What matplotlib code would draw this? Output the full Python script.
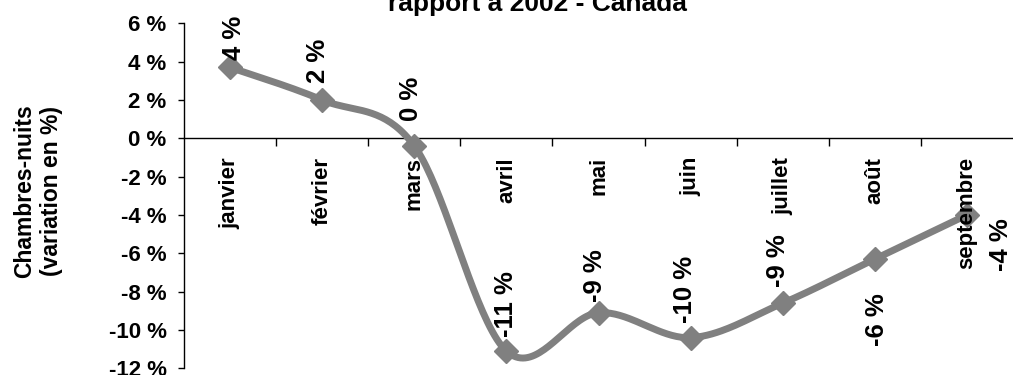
import numpy as np
import matplotlib
matplotlib.use("Agg")
import matplotlib.pyplot as plt
from matplotlib.ticker import FixedLocator, FuncFormatter

plt.rcParams["font.family"] = ["Liberation Sans", "DejaVu Sans"]
plt.rcParams["font.weight"] = "bold"
plt.rcParams["axes.unicode_minus"] = False

# Monthly change in room-nights versus 2002 (%)
months = ["janvier", "février", "mars", "avril", "mai", "juin",
          "juillet", "août", "septembre"]
values = [3.7, 2.0, -0.4, -11.1, -9.1, -10.4, -8.6, -6.3, -4.0]
value_labels = ["4 %", "2 %", "0 %", "-11 %", "-9 %", "-10 %", "-9 %", "-6 %", "-4 %"]

# label placement: (dx, dy) in pixels from the point, vertical alignment
label_offsets = [(4, 7, "bottom"), (-4, 17, "bottom"), (-3, 25, "bottom"),
                 (0, 14, "bottom"), (-3, 11, "bottom"), (-6, 15, "bottom"),
                 (-5, 16, "bottom"), (2, -34, "top"), (34, -30, "center")]

line_color = "#808080"


def smooth_curve(x, y, n=40):
    """Catmull-Rom style cubic Bezier through every point."""
    p = np.column_stack([x, y]).astype(float)
    ext = np.vstack([p[0], p, p[-1]])
    out = []
    t = np.linspace(0, 1, n)[:, None]
    for i in range(len(p) - 1):
        p0, p1, p2, p3 = ext[i], ext[i + 1], ext[i + 2], ext[i + 3]
        c1 = p1 + (p2 - p0) / 6.0
        c2 = p2 - (p3 - p1) / 6.0
        seg = ((1 - t) ** 3) * p1 + 3 * ((1 - t) ** 2) * t * c1 \
            + 3 * (1 - t) * t ** 2 * c2 + t ** 3 * p2
        out.append(seg if i == 0 else seg[1:])
    s = np.vstack(out)
    return s[:, 0], s[:, 1]


fig = plt.figure(figsize=(10.13, 3.75), dpi=100)
ax = fig.add_axes([184 / 1013, 6.7 / 375, 1 - 184 / 1013, (368.3 - 23.3) / 375])

xs = np.arange(len(months))
sx, sy = smooth_curve(xs, values)
ax.plot(sx, sy, color=line_color, lw=5, solid_capstyle="round", zorder=2)
ax.plot(xs, values, linestyle="none", marker="D", ms=12.5,
        color=line_color, zorder=2.1)

for x, v, lab, (dx, dy, va) in zip(xs, values, value_labels, label_offsets):
    ax.annotate(lab, (x, v), xytext=(dx, dy), textcoords="offset pixels",
                rotation=90, ha="center", va=va, fontsize=18.5,
                fontweight="bold", zorder=5)

ax.set_xlim(-0.5, len(months) - 0.5)
ax.set_ylim(-12, 6)

# spines: y axis on the left, category axis along zero
for side in ("top", "right"):
    ax.spines[side].set_visible(False)
ax.spines["bottom"].set_position(("data", 0))
ax.spines["left"].set_linewidth(1.0)
ax.spines["bottom"].set_linewidth(1.0)
ax.spines["bottom"].set_zorder(1)
ax.spines["left"].set_zorder(1)
ax.xaxis.set_zorder(4)

ax.yaxis.set_major_locator(FixedLocator(np.arange(-12, 7, 2)))
ax.yaxis.set_major_formatter(FuncFormatter(lambda v, _: f"{int(round(v))} %"))
ax.tick_params(axis="y", direction="out", length=4.5, width=1, pad=8,
               labelsize=16)

ax.xaxis.set_major_locator(FixedLocator(xs))
ax.set_xticklabels(months, rotation=90, va="top", ha="center", fontsize=16,
                   fontweight="bold")
ax.xaxis.set_minor_locator(FixedLocator(np.arange(0.5, len(months) - 0.5, 1)))
ax.tick_params(axis="x", which="major", length=0, pad=13.5)
ax.tick_params(axis="x", which="minor", direction="out", length=5.8, width=1)

fig.text(38 / 1013, 1 - 191 / 375, "Chambres-nuits\n(variation en %)",
         rotation=90, ha="center", va="center", fontsize=16.5,
         fontweight="bold", multialignment="center", linespacing=1.2)

fig.text(537 / 1013, 1 - 11 / 375, "rapport à 2002 - Canada", ha="center",
         va="baseline", fontsize=19, fontweight="bold")

fig.savefig("out.png", dpi=100)
